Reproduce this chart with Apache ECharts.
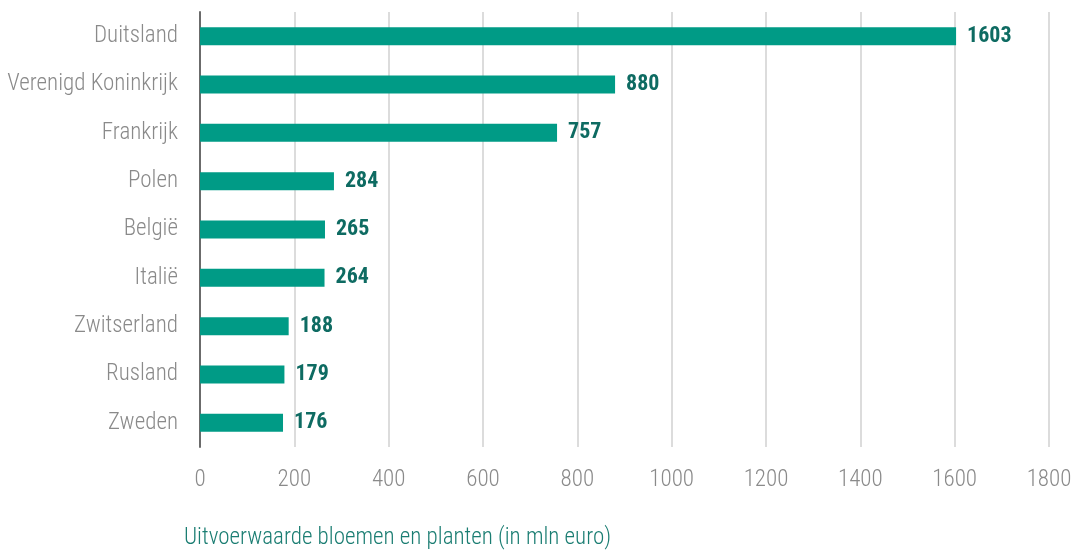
<!DOCTYPE html>
<html><head><meta charset="utf-8">
<script src="https://cdn.jsdelivr.net/npm/echarts@6/dist/echarts.min.js"></script>
<style>html,body{margin:0;padding:0;background:#fff}#c{width:1076px;height:552px}</style>
</head><body><div id="c"></div>
<script>
const categories = ['Duitsland','Verenigd Koninkrijk','Frankrijk','Polen','België','Italië','Zwitserland','Rusland','Zweden'];
const values = [1603, 880, 757, 284, 265, 264, 188, 179, 176];
const axisTitle = 'Uitvoerwaarde bloemen en planten (in mln euro)';
const FONT = '"Roboto Condensed", "Roboto", sans-serif';
const chart = echarts.init(document.getElementById('c'));
chart.setOption({
  animation: false,
  title: {
    text: axisTitle, left: 179, top: 522,
    textStyle: {fontFamily: FONT, fontSize: 23, fontWeight: 300, color: '#1a7d72'}
  },
  grid: {left: 200, right: 27, top: 12, bottom: 105, containLabel: false},
  xAxis: {
    type: 'value', min: 0, max: 1800, interval: 200,
    axisLine: {show: false}, axisTick: {show: false},
    splitLine: {show: true, lineStyle: {color: '#dcdcdc', width: 2}},
    axisLabel: {margin: 22, fontFamily: FONT, fontSize: 23, fontWeight: 300, color: '#8a8a8a',
      formatter: function (v) { return String(v); }}
  },
  yAxis: {
    type: 'category', data: categories, inverse: true,
    axisLine: {show: true, lineStyle: {color: '#6b6b6b', width: 2}},
    axisTick: {show: false},
    axisLabel: {margin: 22, fontFamily: FONT, fontSize: 23, fontWeight: 300, color: '#8a8a8a'}
  },
  series: [{
    type: 'bar', data: values, barWidth: 18,
    itemStyle: {color: '#009b86'},
    label: {show: true, position: 'right', distance: 11, fontFamily: FONT, fontSize: 22, fontWeight: 'bold', color: '#0e6b62'}
  }]
});
</script></body></html>
